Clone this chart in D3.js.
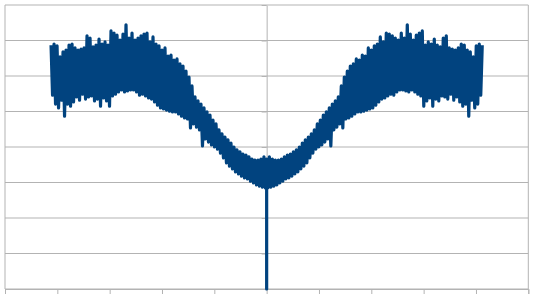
<!DOCTYPE html>
<html>
<head>
<meta charset="utf-8">
<script src="https://cdn.jsdelivr.net/npm/d3@7"></script>
<style>
  body { margin: 0; background: #fff; }
  svg { display: block; }
</style>
</head>
<body>
<div id="chart-container"></div>
<script>
// valores (picos altos / bajos de la señal)
const leftHigh = [
  6.87,6.90,6.85,6.54,6.68,6.73,6.87,6.90,6.79,6.73,
  6.76,6.79,7.13,7.07,6.82,6.87,7.04,6.90,6.96,6.87,
  7.27,7.21,7.15,7.01,7.18,7.44,7.07,7.21,7.01,7.07,
  7.13,7.18,7.21,6.96,7.10,6.90,6.85,6.73,6.79,6.56,
  6.59,6.45,6.48,6.34,6.28,6.14,5.97,5.72,5.41,5.30,
  5.21,5.10,4.99,4.90,4.76,4.65,4.48,4.37,4.28,4.20,
  4.11,4.00,3.92,3.86,3.80,3.77,3.72,3.66,3.63,3.63,
  3.66,3.72
];
const leftLow = [
  5.46,5.21,5.10,5.32,4.87,5.21,5.15,5.27,5.41,5.32,
  5.49,5.35,5.41,5.44,5.30,5.35,5.15,5.38,5.30,5.15,
  5.44,5.49,5.55,5.61,5.55,5.58,5.61,5.61,5.55,5.46,
  5.49,5.44,5.38,5.35,5.27,5.18,5.10,5.07,5.04,5.01,
  4.99,4.99,4.93,4.87,4.82,4.79,4.54,4.65,4.56,4.48,
  4.03,4.23,4.14,4.06,4.00,3.94,3.83,3.69,3.55,3.46,
  3.38,3.30,3.24,3.18,3.13,3.10,3.04,2.99,2.93,2.90,
  2.87,2.85
];
const centreHigh = 3.66;
const centreLow = 0;
const rightHigh = [
  3.72,3.66,3.63,3.63,3.66,3.72,3.77,3.80,3.86,3.92,
  4.00,4.11,4.20,4.28,4.37,4.48,4.65,4.76,4.90,4.99,
  5.10,5.21,5.30,5.41,5.72,5.97,6.14,6.28,6.34,6.48,
  6.45,6.59,6.56,6.79,6.73,6.85,6.90,7.10,6.96,7.21,
  7.18,7.13,7.07,7.01,7.21,7.07,7.44,7.18,7.01,7.15,
  7.21,7.27,6.87,6.96,6.90,7.04,6.87,6.82,7.07,7.13,
  6.79,6.76,6.73,6.79,6.90,6.87,6.73,6.68,6.54,6.85,
  6.90,6.87
];
const rightLow = [
  2.85,2.87,2.90,2.93,2.99,3.04,3.10,3.13,3.18,3.24,
  3.30,3.38,3.46,3.55,3.69,3.83,3.94,4.00,4.06,4.14,
  4.23,4.03,4.48,4.56,4.65,4.54,4.79,4.82,4.87,4.93,
  4.99,4.99,5.01,5.04,5.07,5.10,5.18,5.27,5.35,5.38,
  5.44,5.49,5.46,5.55,5.61,5.61,5.58,5.55,5.61,5.55,
  5.49,5.44,5.15,5.30,5.38,5.15,5.35,5.30,5.44,5.41,
  5.35,5.49,5.32,5.41,5.27,5.15,5.21,4.87,5.32,5.10,
  5.21,5.46
];
const leftStartX = -41.2;
const rightStartX = 0.23;
const sampleStep = 0.573;
const xTicks = [-50,-40,-30,-20,-10,0,10,20,30,40,50];
const yTicks = [0,1,2,3,4,5,6,7,8];

const W = 536, H = 302;
const margin = { top: 5, right: 7.7, bottom: 13, left: 5 };

const svg = d3.select("#chart-container").append("svg")
    .attr("width", W)
    .attr("height", H);

const x = d3.scaleLinear().domain([-50, 50]).range([margin.left, W - margin.right]);
const y = d3.scaleLinear().domain([0, 8]).range([H - margin.bottom, margin.top]);

// rejilla horizontal
svg.append("g")
    .selectAll("line")
    .data(yTicks)
    .join("line")
    .attr("x1", x(-50)).attr("x2", x(50))
    .attr("y1", d => y(d)).attr("y2", d => y(d))
    .attr("stroke", "#b3b3b3")
    .attr("stroke-width", 1);

// bordes laterales
svg.append("g")
    .selectAll("line")
    .data([-50, 50])
    .join("line")
    .attr("x1", d => x(d)).attr("x2", d => x(d))
    .attr("y1", y(0)).attr("y2", y(8))
    .attr("stroke", "#b3b3b3");

// eje X
svg.append("g")
    .attr("transform", `translate(0,${y(0)})`)
    .call(d3.axisBottom(x).tickValues(xTicks).tickSize(5).tickFormat(""))
    .call(g => g.selectAll("path, line").attr("stroke", "#b3b3b3"));

// eje Y en el centro
svg.append("g")
    .attr("transform", `translate(${x(0)},0)`)
    .call(d3.axisLeft(y).tickValues(yTicks).tickSize(5).tickSizeOuter(0).tickFormat(""))
    .call(g => g.selectAll("path, line").attr("stroke", "#b3b3b3"));

// serie
const pts = [];
leftHigh.forEach((v, i) => {
  const xv = leftStartX + i * sampleStep;
  pts.push([xv, v]);
  pts.push([xv + sampleStep / 2, leftLow[i]]);
});
pts.push([0, centreHigh]);
pts.push([0, centreLow]);
pts.push([0, centreHigh]);
rightHigh.forEach((v, i) => {
  const xv = rightStartX + i * sampleStep;
  pts.push([xv, rightLow[i]]);
  pts.push([xv + sampleStep / 2, v]);
});

const line = d3.line()
    .x(d => x(d[0]))
    .y(d => y(d[1]));

svg.append("path")
    .datum(pts)
    .attr("fill", "none")
    .attr("stroke", "#01437f")
    .attr("stroke-width", 3.2)
    .attr("stroke-linejoin", "round")
    .attr("d", line);
</script>
</body>
</html>
